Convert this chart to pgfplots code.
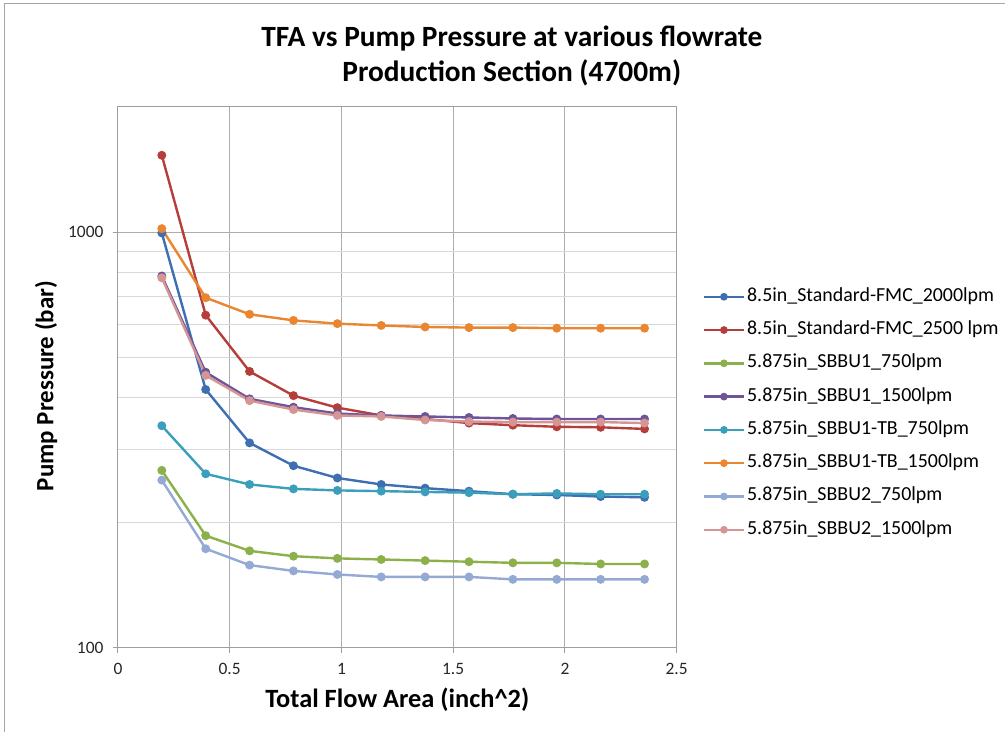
\documentclass[border=0pt]{standalone}
\usepackage{fontspec}
\setmainfont{Carlito}
\usepackage{pgfplots}
\usepackage{pgfplotstable}
\pgfplotsset{compat=1.18}

\definecolor{c1}{HTML}{3E6FB2}
\definecolor{c2}{HTML}{B53E3B}
\definecolor{c3}{HTML}{8CB04A}
\definecolor{c4}{HTML}{6F5499}
\definecolor{c5}{HTML}{3B9EBA}
\definecolor{c6}{HTML}{E9862F}
\definecolor{c7}{HTML}{94AAD4}
\definecolor{c8}{HTML}{D59594}

\newcommand{\tl}{\fontsize{17.5}{20}\selectfont}

% TFA (inch^2) vs pump pressure (bar)
\pgfplotstableread{
x      a     b     c    d    e    f     g    h
0.1963 995   1530  267  784  342  1019  253  776
0.3927 418   631   186  460  262  695   173  452
0.5890 311   462   171  397  247  634   158  393
0.7854 274   404   166  379  241  613   153  374
0.9817 256   378   164  366  239  602   150  362
1.1781 247   362   163  362  238  596   148  360
1.3744 242   355   162  360  237  591   148  353
1.5708 238   347   161  358  236  589   148  350
1.7671 234   343   160  356  234  589   146  349
1.9635 233   340   160  355  235  587   146  349
2.1598 231   339   159  355  234  587   146  349
2.3562 230   336   159  355  234  587   146  347
}\tfa

\begin{document}
\begin{tikzpicture}
\begin{axis}[
    width=559bp, height=541bp, scale only axis,
    xmin=0, xmax=2.5, ymin=100, ymax=2000, ymode=log,
    xtick={0,0.5,1,1.5,2,2.5},
    xticklabels={{\tl 0},{\tl 0.5},{\tl 1},{\tl 1.5},{\tl 2},{\tl 2.5}},
    ytick={100,1000}, yticklabels={{\tl 100},{\tl 1000}},
    minor ytick={200,300,400,500,600,700,800,900,2000},
    xmajorgrids, ymajorgrids, yminorgrids,
    major grid style={black!32, line width=0.9bp},
    minor grid style={black!15, line width=0.9bp},
    axis line style={black!38, line width=0.9bp},
    tick pos=left, tick align=outside,
    major tick length=5bp, minor tick length=0pt,
    tick style={black!38, line width=0.9bp},
    xticklabel style={text=black!85, yshift=-7bp},
    yticklabel style={text=black!85, xshift=-6bp},
    title={TFA vs Pump Pressure at various flowrate\\Production Section (4700m)},
    title style={at={(0.705,1.084)}, anchor=center, align=center,
        font=\bfseries\fontsize{29.5}{35}\selectfont},
    xlabel={Total Flow Area (inch\textasciicircum 2)},
    xlabel style={at={(axis description cs:0.5,-0.0961)}, anchor=center,
        font=\bfseries\fontsize{26.5}{30}\selectfont},
    ylabel={Pump Pressure (bar)},
    ylabel style={at={(axis description cs:-0.1288,0.484)}, anchor=center,
        font=\bfseries\fontsize{25}{30}\selectfont},
    every axis plot/.append style={line width=2.4bp, mark=*, mark size=3.2bp},
    legend image code/.code={\draw[mark repeat=2, mark phase=2, mark size=2.6bp]
        plot coordinates {(0bp,0bp) (20bp,0bp) (40bp,0bp)};},
    legend cell align=left,
    legend style={at={(1.041,0.4335)}, anchor=west, draw=none, fill=none,
        font=\fontsize{20}{24}\selectfont, row sep=10.3bp,
        nodes={text height=14bp, text depth=5bp, inner sep=2bp}},
]
\addplot[c1] table[x=x, y=a] {\tfa};
\addplot[c2] table[x=x, y=b] {\tfa};
\addplot[c3] table[x=x, y=c] {\tfa};
\addplot[c4] table[x=x, y=d] {\tfa};
\addplot[c5] table[x=x, y=e] {\tfa};
\addplot[c6] table[x=x, y=f] {\tfa};
\addplot[c7] table[x=x, y=g] {\tfa};
\addplot[c8] table[x=x, y=h] {\tfa};
\legend{8.5in\_Standard-FMC\_2000lpm, 8.5in\_Standard-FMC\_2500 lpm,
    5.875in\_SBBU1\_750lpm, 5.875in\_SBBU1\_1500lpm,
    5.875in\_SBBU1-TB\_750lpm, 5.875in\_SBBU1-TB\_1500lpm,
    5.875in\_SBBU2\_750lpm, 5.875in\_SBBU2\_1500lpm}
\end{axis}
\draw[black!35, line width=1bp] (-113bp,-84bp) -- (-113bp,644bp) -- (887bp,644bp);
\path (-118bp,-84bp) rectangle (887bp,648bp);
\end{tikzpicture}
\end{document}
